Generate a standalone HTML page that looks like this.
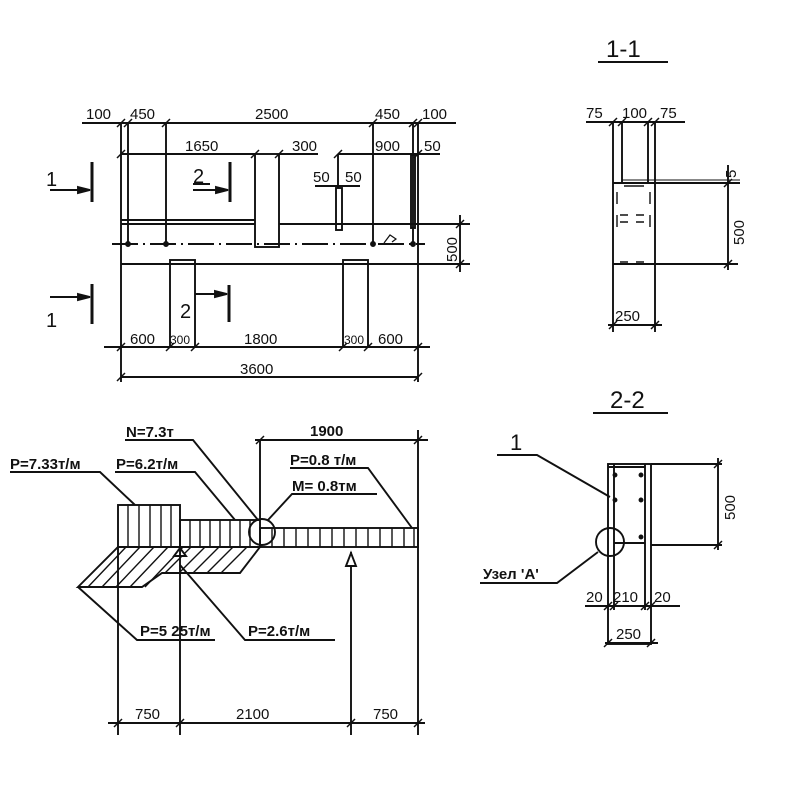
<!DOCTYPE html>
<html><head><meta charset="utf-8"><style>body{margin:0;background:#fff}svg{display:block}text{font-family:"Liberation Sans","DejaVu Sans",sans-serif;font-size:15px;fill:#111;font-stretch:condensed}</style></head><body>
<svg width="800" height="800" viewBox="0 0 800 800" xmlns="http://www.w3.org/2000/svg" stroke="#111" stroke-width="1.9" fill="none">
<!-- TOP PLAN -->
<g>
<line x1="82" y1="123" x2="456" y2="123"/>
<line x1="121" y1="123" x2="121" y2="382"/><line x1="418" y1="123" x2="418" y2="382"/>
<line x1="128" y1="123" x2="128" y2="245"/><line x1="166" y1="123" x2="166" y2="245"/>
<line x1="373" y1="123" x2="373" y2="245"/><line x1="413" y1="123" x2="413" y2="245"/>
<line x1="121" y1="154" x2="255" y2="154"/><line x1="279" y1="154" x2="318" y2="154"/>
<line x1="338" y1="154" x2="440" y2="154"/>
<rect x="255" y="154" width="24" height="93"/>
<line x1="121" y1="220" x2="255" y2="220"/><line x1="121" y1="224" x2="255" y2="224"/>
<line x1="279" y1="224" x2="470" y2="224"/>
<line x1="112" y1="244" x2="425" y2="244" stroke-dasharray="26,5,2,5"/>
<line x1="121" y1="264" x2="470" y2="264"/>
<rect x="170" y="260" width="25" height="87"/><rect x="343" y="260" width="25" height="87"/>
<rect x="336" y="188" width="6" height="42"/><rect x="411" y="155" width="4" height="73"/>
<line x1="338" y1="154" x2="338" y2="188"/>
<line x1="315" y1="186" x2="360" y2="186"/>
<line x1="104" y1="347" x2="430" y2="347"/>
<line x1="121" y1="377" x2="418" y2="377"/>
<line x1="460" y1="215" x2="460" y2="272"/>
<g stroke-width="1.5">
<path d="M117 127l8-8M124 127l8-8M162 127l8-8M369 127l8-8M409 127l8-8M414 127l8-8M117 158l8-8M251 158l8-8M275 158l8-8M334 158l8-8M414 158l8-8M117 351l8-8M166 351l8-8M191 351l8-8M339 351l8-8M364 351l8-8M414 351l8-8M117 381l8-8M414 381l8-8M456 228l8-8M456 268l8-8"/>
</g>
<circle cx="128" cy="244" r="2" fill="#111"/><circle cx="166" cy="244" r="2" fill="#111"/><circle cx="373" cy="244" r="2" fill="#111"/><circle cx="413" cy="244" r="2" fill="#111"/>
<path d="M384 243l6-8 6 4-4 3" stroke-width="1.2"/>
<g stroke-width="3"><line x1="92" y1="162" x2="92" y2="202"/><line x1="92" y1="284" x2="92" y2="324"/>
<line x1="230" y1="162" x2="230" y2="202"/><line x1="229" y1="285" x2="229" y2="322"/></g>
<line x1="50" y1="190" x2="90" y2="190"/><path d="M78 187l12 3-12 3z" fill="#111"/>
<line x1="50" y1="297" x2="90" y2="297"/><path d="M78 294l12 3-12 3z" fill="#111"/>
<line x1="193" y1="190" x2="228" y2="190"/><path d="M216 187l12 3-12 3z" fill="#111"/>
<line x1="195" y1="294" x2="227" y2="294"/><path d="M215 291l12 3-12 3z" fill="#111"/>
<line x1="193" y1="184" x2="210" y2="184"/>
</g>
<g stroke="none">
<text x="86" y="119">100</text><text x="130" y="119">450</text><text x="255" y="119">2500</text><text x="375" y="119">450</text><text x="422" y="119">100</text>
<text x="185" y="151">1650</text><text x="292" y="151">300</text><text x="375" y="151">900</text><text x="424" y="151">50</text>
<text x="313" y="182">50</text><text x="345" y="182">50</text>
<text x="46" y="186" style="font-size:20px">1</text><text x="46" y="327" style="font-size:20px">1</text>
<text x="193" y="183" style="font-size:20px">2</text><text x="180" y="318" style="font-size:20px">2</text>
<text x="130" y="344">600</text><text x="170" y="344" style="font-size:12px">300</text><text x="244" y="344">1800</text><text x="344" y="344" style="font-size:12px">300</text><text x="378" y="344">600</text>
<text x="240" y="374">3600</text>
<text transform="translate(457,262) rotate(-90)">500</text>
</g>
<!-- LOAD DIAGRAM -->
<g>
<rect x="118" y="505" width="62" height="42"/>
<path d="M128 505v42M139 505v42M150 505v42M161 505v42M171 505v42" stroke-width="1.4"/>
<rect x="180" y="520" width="80" height="27"/>
<path d="M190 520v27M200 520v27M210 520v27M220 520v27M230 520v27M240 520v27M250 520v27" stroke-width="1.4"/>
<rect x="260" y="528" width="158" height="19"/>
<path d="M272 528v19M284 528v19M296 528v19M308 528v19M320 528v19M332 528v19M344 528v19M356 528v19M368 528v19M380 528v19M392 528v19M404 528v19M414 528v19" stroke-width="1.4"/>
<circle cx="262" cy="532" r="13"/>
<polygon points="78,587 118,547 260,547 240,573 162,573 142,587"/>
<path d="M88 587l38-40M102 587l38-40M116 587l38-40M130 587l38-40M145 587l38-40M165 573l26-26M179 573l26-26M193 573l26-26M207 573l26-26M221 573l26-26" stroke-width="1.4"/>
<path d="M174 556l6-8 6 8z" fill="#fff"/>
<line x1="351" y1="552" x2="351" y2="735"/><path d="M346 566l5-13 5 13z" fill="#fff"/>
<line x1="118" y1="547" x2="118" y2="735"/><line x1="180" y1="547" x2="180" y2="735"/><line x1="418" y1="430" x2="418" y2="735"/>
<line x1="260" y1="440" x2="260" y2="520"/><line x1="255" y1="440" x2="428" y2="440"/>
<line x1="108" y1="723" x2="425" y2="723"/>
<path d="M114 727l8-8M176 727l8-8M347 727l8-8M414 727l8-8M256 444l8-8M414 444l8-8" stroke-width="1.5"/>
<polyline points="10,472 100,472 135,505"/>
<polyline points="115,472 195,472 235,520"/>
<polyline points="125,440 193,440 258,520"/>
<polyline points="290,468 368,468 412,528"/>
<polyline points="377,494 292,494 268,520"/>
<polyline points="78,587 137,640 215,640"/>
<polyline points="180,565 245,640 335,640"/>
</g>
<g stroke="none" style="font-weight:bold">
<text x="10" y="469">P=7.33т/м</text><text x="116" y="469">P=6.2т/м</text>
<text x="126" y="437">N=7.3т</text><text x="310" y="436">1900</text>
<text x="290" y="465">P=0.8 т/м</text><text x="292" y="491">M= 0.8тм</text>
<text x="140" y="636">P=5 25т/м</text><text x="248" y="636">P=2.6т/м</text>
</g>
<g stroke="none"><text x="135" y="719">750</text><text x="236" y="719">2100</text><text x="373" y="719">750</text></g>
<!-- SECTION 1-1 -->
<g>
<line x1="598" y1="62" x2="668" y2="62"/>
<line x1="586" y1="122" x2="685" y2="122"/>
<line x1="613" y1="122" x2="613" y2="332"/><line x1="655" y1="122" x2="655" y2="332"/>
<line x1="622" y1="122" x2="622" y2="183"/><line x1="648" y1="122" x2="648" y2="183"/>
<line x1="613" y1="183" x2="740" y2="183"/><line x1="622" y1="180" x2="740" y2="180" stroke-width="1"/>
<line x1="613" y1="264" x2="738" y2="264"/>
<line x1="728" y1="165" x2="728" y2="270"/>
<line x1="608" y1="325" x2="662" y2="325"/>
<path d="M617 192v12M617 215v12M650 192v12M650 215v12M620 215h8M636 215h8M620 222h8M636 222h8M620 262h8M636 262h8M624 186h20" stroke-width="1.4"/>
<path d="M609 126l8-8M618 126l8-8M644 126l8-8M651 126l8-8M724 187l8-8M724 268l8-8M609 329l8-8M651 329l8-8" stroke-width="1.5"/>
</g>
<g stroke="none"><text x="606" y="57" style="font-size:24px">1-1</text>
<text x="586" y="118">75</text><text x="622" y="118">100</text><text x="660" y="118">75</text>
<text x="615" y="321">250</text>
<text transform="translate(744,245) rotate(-90)">500</text>
<text transform="translate(736,178) rotate(-90)">5</text></g>
<!-- SECTION 2-2 -->
<g>
<line x1="593" y1="413" x2="668" y2="413"/>
<rect x="608" y="464" width="43" height="180"/>
<line x1="614" y1="464" x2="614" y2="610"/><line x1="645" y1="464" x2="645" y2="610"/>
<line x1="608" y1="467" x2="645" y2="467"/><line x1="614" y1="543" x2="645" y2="543"/>
<line x1="651" y1="464" x2="722" y2="464"/><line x1="651" y1="545" x2="722" y2="545"/>
<line x1="718" y1="458" x2="718" y2="550"/>
<circle cx="610" cy="542" r="14"/>
<polyline points="497,455 537,455 610,497"/>
<polyline points="480,583 557,583 598,552"/>
<line x1="585" y1="606" x2="680" y2="606"/><line x1="605" y1="643" x2="658" y2="643"/>
<path d="M604 610l8-8M610 610l8-8M641 610l8-8M647 610l8-8M604 647l8-8M647 647l8-8M714 468l8-8M714 549l8-8" stroke-width="1.5"/>
<circle cx="615" cy="500" r="1.5" fill="#111"/><circle cx="641" cy="500" r="1.5" fill="#111"/><circle cx="615" cy="475" r="1.5" fill="#111"/><circle cx="641" cy="475" r="1.5" fill="#111"/><circle cx="641" cy="537" r="1.5" fill="#111"/>
</g>
<g stroke="none"><text x="610" y="408" style="font-size:24px">2-2</text>
<text x="510" y="450" style="font-size:22px">1</text>
<text x="483" y="579" style="font-weight:bold">Узел 'А'</text>
<text x="586" y="602">20</text><text x="613" y="602">210</text><text x="654" y="602">20</text>
<text x="616" y="639">250</text>
<text transform="translate(735,520) rotate(-90)">500</text></g>
</svg>
</body></html>
